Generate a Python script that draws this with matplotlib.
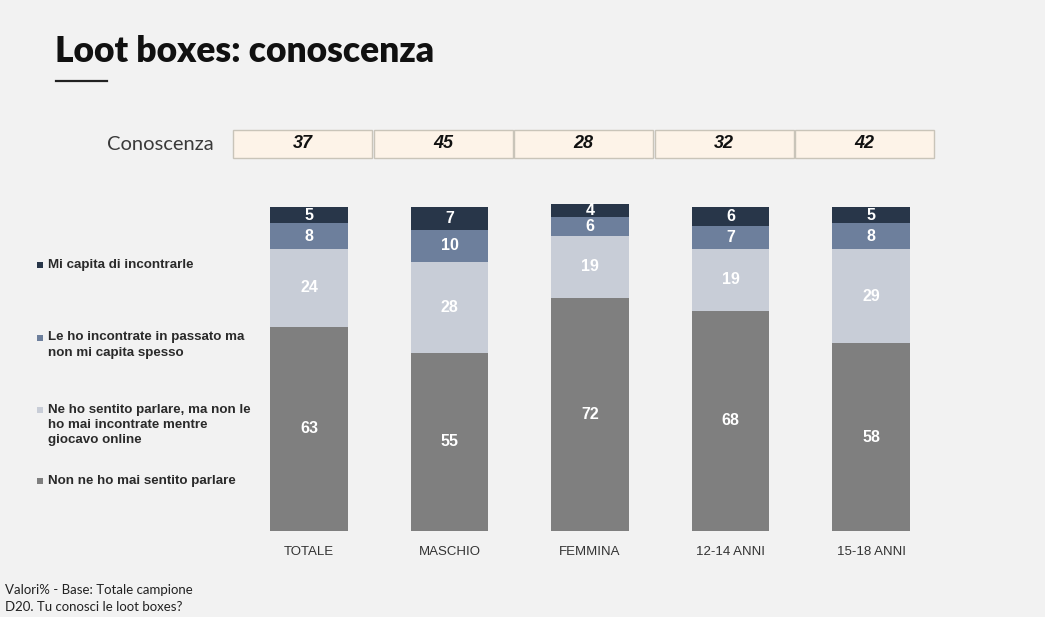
import matplotlib.pyplot as plt
from matplotlib.patches import Rectangle

groups = ["TOTALE", "MASCHIO", "FEMMINA", "12-14 ANNI", "15-18 ANNI"]
conoscenza = [37, 45, 28, 32, 42]

# stacked from the bottom up
mai_sentito = [63, 55, 72, 68, 58]
sentito_parlare = [24, 28, 19, 19, 29]
incontrate_passato = [8, 10, 6, 7, 8]
capita_incontrarle = [5, 7, 4, 6, 5]

legend_labels = [
    "Mi capita di incontrarle",
    "Le ho incontrate in passato ma\nnon mi capita spesso",
    "Ne ho sentito parlare, ma non le\nho mai incontrate mentre\ngiocavo online",
    "Non ne ho mai sentito parlare",
]

W, H = 1045, 617
bg = "#F2F2F2"
colors = ["#7F7F7F", "#C8CDD7", "#6D7F9C", "#283649"]


def fx(px):
    return px / W


def fy(py):
    return 1 - py / H


fig = plt.figure(figsize=(W / 100, H / 100), dpi=100, facecolor=bg)

# main stacked bars
left_px, right_px = 238.75, 941.25
ax = fig.add_axes([fx(left_px), fy(531), fx(right_px - left_px), (531 - 207) / H])
ax.set_facecolor(bg)
x = list(range(len(groups)))
series = [mai_sentito, sentito_parlare, incontrate_passato, capita_incontrarle]
bottom = [0] * len(groups)
for vals, col in zip(series, colors):
    bars = ax.bar(x, vals, bottom=bottom, width=0.55, color=col, clip_on=False)
    for b, v, b0 in zip(bars, vals, bottom):
        ax.text(b.get_x() + b.get_width() / 2, b0 + v / 2, str(v),
                ha="center", va="center", color="white", fontsize=11.5,
                fontweight="bold", family="Liberation Sans")
    bottom = [b0 + v for b0, v in zip(bottom, vals)]
ax.set_xlim(-0.5, 4.5)
ax.set_ylim(0, 100)
ax.set_xticks(x)
ax.set_xticklabels(groups, fontsize=9.5, color="#333333", family="Liberation Sans")
ax.tick_params(axis="x", length=0, pad=11)
ax.set_yticks([])
for s in ax.spines.values():
    s.set_visible(False)

# "Conoscenza" row above the bars
tax = fig.add_axes([fx(left_px), fy(158), fx(right_px - left_px), 28 / H])
tax.set_xlim(-0.5, 4.5)
tax.set_ylim(0, 1)
tax.axis("off")
for i, v in enumerate(conoscenza):
    tax.add_patch(Rectangle((i - 0.54, 0), 0.99, 1, facecolor="#FDF3E8",
                            edgecolor="#C9C4B9", linewidth=1.0, clip_on=False))
    tax.text(i - 0.045, 0.5, str(v), ha="center", va="center", fontsize=13,
             fontweight="bold", fontstyle="italic", family="Liberation Sans",
             color="#111111")
fig.text(fx(214), fy(145), "Conoscenza", ha="right", va="center", fontsize=14.5,
         color="#3A3A3A", family="Lato")

# title
fig.text(fx(55), fy(52), "Loot boxes: conoscenza", ha="left", va="center",
         fontsize=25.5, fontweight="heavy", family="Lato", color="#111111")
fig.add_artist(plt.Line2D([fx(56), fx(107)], [fy(81), fy(81)], color="#222222", lw=1.6))

# legend on the left
legend_y = [265, 345, 425, 481]
for lab, yy, col in zip(legend_labels, legend_y, colors[::-1]):
    fig.text(fx(48), fy(yy), lab, ha="left", va="center", fontsize=9.6,
             fontweight="bold", family="Liberation Sans", color="#2A2A2A",
             linespacing=1.35)
    first_line = yy - (lab.count("\n")) * 7.5
    fig.add_artist(Rectangle((fx(37), fy(first_line + 3)), 6 / W, 6 / H,
                             facecolor=col, edgecolor="none"))

# footnotes
fig.text(fx(5), fy(590), "Valori% - Base: Totale campione", ha="left", va="center",
         fontsize=9.5, family="Lato", color="#222222")
fig.text(fx(5), fy(607), "D20. Tu conosci le loot boxes?", ha="left", va="center",
         fontsize=9.5, family="Lato", color="#222222")

fig.savefig("out.png", dpi=100, facecolor=bg)
